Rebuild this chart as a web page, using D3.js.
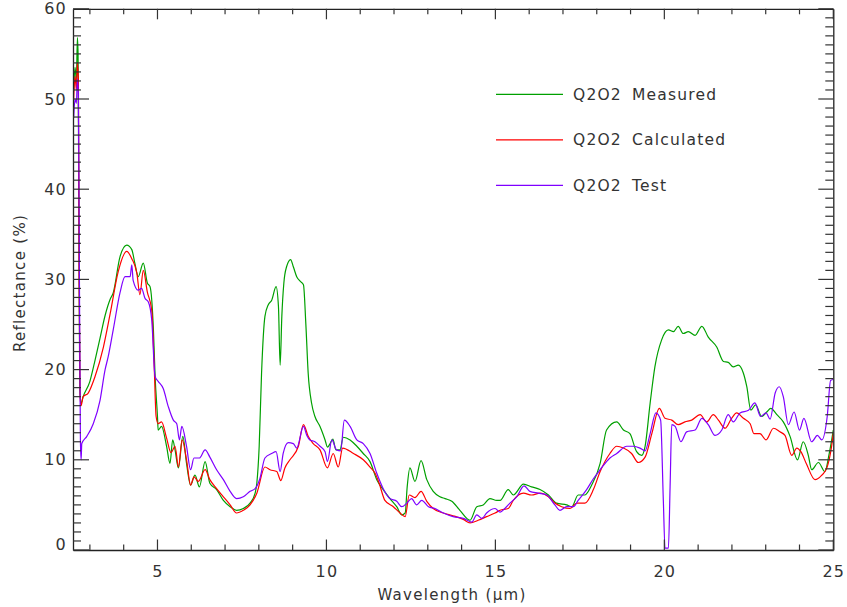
<!DOCTYPE html>
<html>
<head>
<meta charset="utf-8">
<script src="https://cdn.jsdelivr.net/npm/d3@7"></script>
<style>
  body { margin: 0; background: #fff; }
  svg text { font-family: "DejaVu Sans", sans-serif; fill: #333; }
</style>
</head>
<body>
<div id="chart"></div>
<script>
// wavelength (um) and reflectance (%), one pair of arrays per curve
const measuredWl = [2.52, 2.56, 2.60, 2.63, 2.65, 2.67, 2.70, 2.74, 2.80, 3.00, 3.15, 3.30, 3.45, 3.60, 3.69, 3.89, 4.09, 4.24, 4.33, 4.43, 4.58, 4.70, 4.78, 4.88, 4.93, 5.00, 5.02, 5.12, 5.27, 5.37, 5.45, 5.52, 5.62, 5.75, 5.86, 5.98, 6.11, 6.24, 6.41, 6.55, 6.75, 6.95, 7.15, 7.34, 7.54, 7.74, 7.89, 7.94, 8.01, 8.08, 8.18, 8.28, 8.38, 8.51, 8.58, 8.63, 8.68, 8.74, 8.82, 8.94, 9.02, 9.12, 9.22, 9.32, 9.39, 9.46, 9.56, 9.66, 9.81, 9.96, 10.03, 10.11, 10.19, 10.28, 10.40, 10.50, 10.70, 10.90, 11.09, 11.29, 11.49, 11.68, 11.88, 12.08, 12.23, 12.33, 12.39, 12.47, 12.62, 12.80, 12.97, 13.16, 13.36, 13.51, 13.71, 13.95, 14.25, 14.45, 14.64, 14.84, 15.04, 15.14, 15.38, 15.53, 15.83, 16.07, 16.32, 16.57, 16.81, 17.11, 17.26, 17.45, 17.65, 17.85, 18.10, 18.29, 18.59, 18.79, 18.98, 19.18, 19.33, 19.43, 19.58, 19.72, 19.92, 20.12, 20.27, 20.41, 20.56, 20.71, 20.91, 21.11, 21.30, 21.55, 21.75, 21.89, 22.04, 22.19, 22.34, 22.44, 22.56, 22.70, 22.88, 23.03, 23.15, 23.33, 23.52, 23.72, 23.94, 24.11, 24.26, 24.36, 24.56, 24.75, 24.88, 25.00];
const measuredR = [51.0, 53.5, 52.0, 56.8, 55.0, 40.0, 18.0, 16.3, 17.0, 18.7, 21.0, 23.5, 26.0, 27.8, 28.5, 32.5, 33.8, 33.3, 31.8, 30.3, 31.8, 29.6, 29.2, 24.4, 19.2, 14.8, 13.3, 13.7, 11.5, 9.6, 12.2, 11.1, 9.1, 12.6, 9.6, 7.2, 8.3, 7.0, 9.8, 7.4, 6.7, 5.5, 4.8, 4.4, 4.6, 5.2, 6.3, 7.4, 11.5, 19.6, 25.9, 27.2, 27.7, 29.2, 27.0, 20.5, 25.9, 29.6, 31.4, 32.2, 31.4, 30.3, 29.8, 29.4, 25.1, 19.6, 16.3, 14.8, 13.7, 12.2, 11.4, 11.8, 12.3, 11.1, 11.1, 12.5, 12.2, 11.5, 10.7, 9.8, 7.8, 6.7, 5.7, 4.8, 3.9, 4.1, 7.0, 9.1, 7.6, 9.9, 7.8, 6.5, 5.9, 5.7, 5.4, 4.4, 3.3, 4.8, 5.0, 5.7, 5.5, 5.5, 6.7, 6.1, 7.3, 7.0, 6.7, 6.1, 5.2, 5.0, 4.8, 6.1, 6.1, 7.2, 9.6, 13.3, 14.2, 13.3, 12.9, 10.9, 10.5, 11.5, 16.3, 20.3, 23.3, 24.4, 24.2, 24.8, 24.0, 24.2, 23.8, 24.8, 23.6, 22.5, 20.9, 20.8, 20.3, 20.5, 19.6, 18.1, 15.5, 16.1, 14.8, 15.3, 15.7, 15.0, 14.2, 12.6, 10.0, 12.0, 10.5, 8.9, 9.7, 8.7, 10.7, 13.3];

const calculatedWl = [2.52, 2.56, 2.60, 2.63, 2.66, 2.68, 2.71, 2.74, 2.80, 2.95, 3.15, 3.40, 3.60, 3.84, 4.09, 4.24, 4.39, 4.48, 4.58, 4.70, 4.83, 4.90, 4.96, 5.02, 5.12, 5.27, 5.40, 5.52, 5.62, 5.73, 5.86, 5.98, 6.08, 6.21, 6.41, 6.55, 6.75, 6.95, 7.15, 7.34, 7.54, 7.74, 7.94, 8.18, 8.33, 8.53, 8.65, 8.77, 8.92, 9.17, 9.32, 9.46, 9.61, 9.81, 10.03, 10.20, 10.35, 10.48, 10.80, 11.09, 11.29, 11.44, 11.56, 11.73, 11.98, 12.18, 12.33, 12.45, 12.62, 12.80, 12.97, 13.16, 13.46, 13.75, 14.05, 14.25, 14.49, 14.74, 14.99, 15.14, 15.38, 15.53, 15.83, 16.07, 16.32, 16.57, 16.76, 16.96, 17.21, 17.41, 17.65, 17.90, 18.10, 18.39, 18.59, 18.79, 19.03, 19.23, 19.43, 19.63, 19.85, 20.02, 20.22, 20.41, 20.61, 20.81, 21.06, 21.25, 21.45, 21.60, 21.80, 21.99, 22.14, 22.34, 22.54, 22.65, 22.83, 23.01, 23.23, 23.42, 23.57, 23.77, 23.92, 24.04, 24.21, 24.46, 24.66, 24.81, 24.95, 25.00];
const calculatedR = [50.0, 52.5, 51.0, 54.0, 52.0, 30.0, 17.0, 16.0, 17.0, 17.4, 19.2, 22.5, 26.2, 30.9, 33.1, 32.3, 30.7, 28.3, 31.0, 28.6, 26.6, 20.7, 14.8, 14.0, 14.2, 12.4, 10.8, 11.5, 9.2, 12.2, 10.0, 7.2, 8.1, 7.6, 8.9, 7.8, 6.8, 5.9, 5.0, 4.1, 4.4, 5.0, 6.3, 9.2, 8.9, 8.7, 7.7, 9.1, 10.0, 11.5, 13.9, 12.6, 11.8, 11.1, 9.1, 10.7, 9.2, 11.3, 10.7, 10.0, 9.2, 8.5, 7.4, 5.5, 4.8, 4.1, 3.7, 6.1, 5.8, 6.5, 5.4, 4.6, 4.1, 3.8, 3.4, 3.0, 3.3, 3.7, 4.1, 4.4, 4.6, 5.5, 6.3, 6.1, 6.3, 5.9, 5.2, 4.8, 4.6, 5.2, 5.2, 6.7, 8.7, 10.7, 11.5, 11.3, 10.7, 9.7, 10.3, 12.9, 15.7, 14.6, 14.4, 13.9, 14.2, 14.4, 15.0, 14.2, 15.0, 14.4, 13.5, 14.6, 15.2, 14.6, 14.0, 12.9, 12.9, 12.2, 13.5, 13.1, 12.7, 10.5, 11.3, 10.9, 9.5, 7.8, 8.3, 9.1, 11.5, 12.9];

const testWl = [2.52, 2.56, 2.60, 2.63, 2.66, 2.69, 2.72, 2.74, 2.76, 2.91, 3.10, 3.30, 3.45, 3.54, 3.69, 3.89, 4.04, 4.19, 4.24, 4.28, 4.43, 4.53, 4.63, 4.73, 4.83, 4.93, 5.02, 5.17, 5.32, 5.47, 5.57, 5.65, 5.72, 5.86, 5.98, 6.08, 6.24, 6.41, 6.55, 6.75, 6.95, 7.15, 7.34, 7.54, 7.74, 7.89, 8.03, 8.18, 8.38, 8.51, 8.63, 8.72, 8.87, 9.02, 9.12, 9.32, 9.42, 9.51, 9.66, 9.81, 9.96, 10.03, 10.16, 10.30, 10.42, 10.53, 10.70, 10.90, 11.09, 11.29, 11.49, 11.68, 11.88, 12.08, 12.23, 12.38, 12.52, 12.67, 12.82, 13.02, 13.21, 13.46, 13.75, 14.05, 14.30, 14.45, 14.60, 14.74, 14.99, 15.14, 15.28, 15.43, 15.63, 15.85, 16.02, 16.27, 16.52, 16.76, 16.91, 17.11, 17.31, 17.45, 17.70, 17.90, 18.10, 18.39, 18.59, 18.89, 19.08, 19.28, 19.43, 19.58, 19.75, 19.89, 19.97, 20.02, 20.12, 20.17, 20.22, 20.32, 20.49, 20.66, 20.91, 21.11, 21.30, 21.50, 21.70, 21.89, 22.04, 22.24, 22.49, 22.68, 22.85, 23.01, 23.13, 23.28, 23.40, 23.52, 23.67, 23.84, 24.00, 24.13, 24.36, 24.53, 24.66, 24.82, 24.92, 25.00];
const testR = [47.9, 50.0, 49.5, 52.2, 50.5, 30.0, 12.0, 10.0, 11.8, 12.6, 14.0, 16.6, 20.0, 21.4, 24.4, 28.5, 30.3, 30.3, 31.6, 29.9, 28.8, 29.0, 27.9, 27.5, 25.5, 19.2, 18.7, 17.9, 15.9, 14.4, 14.0, 12.2, 13.7, 11.5, 8.9, 10.2, 10.2, 11.1, 10.3, 8.9, 7.8, 6.5, 5.7, 5.9, 6.5, 6.8, 7.9, 10.2, 10.7, 10.9, 8.7, 10.7, 11.9, 11.8, 11.3, 13.7, 12.7, 12.2, 12.0, 11.5, 10.9, 9.8, 12.2, 11.1, 11.0, 14.4, 13.7, 12.2, 11.8, 10.7, 8.5, 6.8, 5.7, 5.4, 4.8, 5.2, 5.7, 5.0, 5.5, 4.8, 4.6, 4.1, 3.7, 3.5, 3.1, 3.9, 3.5, 4.1, 4.6, 4.2, 4.6, 5.2, 5.9, 7.1, 6.5, 6.3, 6.1, 5.0, 4.4, 4.8, 4.8, 5.5, 6.7, 7.9, 8.9, 10.2, 10.7, 11.5, 11.5, 11.3, 11.0, 12.9, 15.2, 14.4, 5.5, 0.2, 0.2, 7.0, 13.9, 13.7, 12.0, 13.1, 13.3, 14.6, 13.9, 12.7, 13.3, 15.0, 14.2, 15.2, 15.5, 16.3, 14.8, 15.2, 14.5, 17.4, 18.1, 17.0, 13.9, 15.3, 13.3, 14.6, 12.0, 12.7, 12.2, 14.8, 18.8, 18.9];

const seriesNames = ['Q2O2 Measured', 'Q2O2 Calculated', 'Q2O2 Test'];
const seriesColors = ['#00a000', '#ff0000', '#7f00ff'];
const xMajorTicks = [5, 10, 15, 20, 25];
const yMajorTicks = [0, 10, 20, 30, 40, 50, 60];

const svgWidth = 847, svgHeight = 607;
const plotLeft = 73, plotRight = 833.3, plotTop = 8.8, plotBottom = 550;

const svg = d3.select('#chart')
  .append('svg')
  .attr('width', svgWidth)
  .attr('height', svgHeight);

const x = d3.scaleLinear().domain([2.5, 25]).range([plotLeft, plotRight]);
const y = d3.scaleLinear().domain([0, 60]).range([plotBottom, plotTop]);

const xMinor = d3.range(3, 25).filter(v => v % 5 !== 0);
const yMinor = d3.range(1, 60).filter(v => v % 10 !== 0);

// curves
svg.append('clipPath').attr('id', 'plotClip')
  .append('rect')
  .attr('x', plotLeft).attr('y', plotTop)
  .attr('width', plotRight - plotLeft).attr('height', plotBottom - plotTop);

const series = [
  d3.zip(measuredWl, measuredR),
  d3.zip(calculatedWl, calculatedR),
  d3.zip(testWl, testR)
];

const lineGen = d3.line()
  .x(d => x(d[0]))
  .y(d => y(d[1]))
  .curve(d3.curveMonotoneX);

svg.append('g')
  .attr('clip-path', 'url(#plotClip)')
  .selectAll('path')
  .data(series)
  .enter()
  .append('path')
  .attr('d', lineGen)
  .attr('fill', 'none')
  .attr('stroke', (d, i) => seriesColors[i])
  .attr('stroke-width', 1.2)
  .attr('stroke-linejoin', 'round');

// legend
const legend = svg.selectAll('.legend')
  .data(seriesNames)
  .enter()
  .append('g')
  .attr('class', 'legend')
  .attr('transform', (d, i) => `translate(496,${94.3 + 45.5 * i})`);

legend.append('line')
  .attr('x1', 0).attr('x2', 67)
  .attr('stroke', (d, i) => seriesColors[i])
  .attr('stroke-width', 1.2);

legend.append('text')
  .attr('x', 77)
  .attr('dy', '0.36em')
  .attr('font-size', 15.5)
  .attr('letter-spacing', 1.2)
  .attr('word-spacing', 4)
  .text(d => d);

// axis titles
svg.append('text')
  .attr('x', 452)
  .attr('y', 600)
  .attr('text-anchor', 'middle')
  .attr('font-size', 15)
  .attr('letter-spacing', 1.3)
  .text('Wavelength (\u03bcm)');

svg.append('text')
  .attr('transform', 'translate(25,283) rotate(-90)')
  .attr('text-anchor', 'middle')
  .attr('font-size', 15)
  .attr('letter-spacing', 1.3)
  .text('Reflectance (%)');

function styleAxis(g) {
  g.selectAll('.domain').attr('stroke', '#222').attr('stroke-width', 1.3);
  g.selectAll('text').attr('font-size', 16).attr('letter-spacing', 1.2).attr('fill', '#333');
}

// frame and labels from the d3 axes
svg.append('g')
  .attr('transform', `translate(0,${plotBottom})`)
  .call(d3.axisBottom(x).tickValues(xMajorTicks).tickSize(0).tickPadding(16).tickFormat(d3.format('d')))
  .call(styleAxis);
svg.append('g')
  .attr('transform', `translate(0,${plotTop})`)
  .call(d3.axisTop(x).tickValues([]).tickSize(0))
  .call(styleAxis);
const yAxisG = svg.append('g')
  .attr('transform', `translate(${plotLeft},0)`)
  .call(d3.axisLeft(y).tickValues(yMajorTicks).tickSize(0).tickPadding(6).tickFormat(d3.format('d')))
  .call(styleAxis);
yAxisG.selectAll('.tick text').filter(d => d === 0).attr('y', -6);
svg.append('g')
  .attr('transform', `translate(${plotRight},0)`)
  .call(d3.axisRight(y).tickValues([]).tickSize(0))
  .call(styleAxis);

// inward tick marks, placed with the same scales
function xTicks(values, yBase, len) {
  svg.append('g').selectAll('line')
    .data(values)
    .enter()
    .append('line')
    .attr('x1', d => x(d)).attr('x2', d => x(d))
    .attr('y1', yBase).attr('y2', yBase + len)
    .attr('stroke', '#333')
    .attr('stroke-width', 1.2);
}
function yTicks(values, xBase, len) {
  svg.append('g').selectAll('line')
    .data(values)
    .enter()
    .append('line')
    .attr('y1', d => y(d)).attr('y2', d => y(d))
    .attr('x1', xBase).attr('x2', xBase + len)
    .attr('stroke', '#333')
    .attr('stroke-width', 1.2);
}

xTicks(xMinor, plotBottom, -5.5);
xTicks(xMajorTicks, plotBottom, -10.5);
xTicks(xMinor, plotTop, 5.5);
xTicks(xMajorTicks, plotTop, 10.5);
yTicks(yMinor, plotLeft, 8);
yTicks(yMajorTicks, plotLeft, 16);
yTicks(yMinor, plotRight, -8);
yTicks(yMajorTicks, plotRight, -15);
</script>
</body>
</html>
